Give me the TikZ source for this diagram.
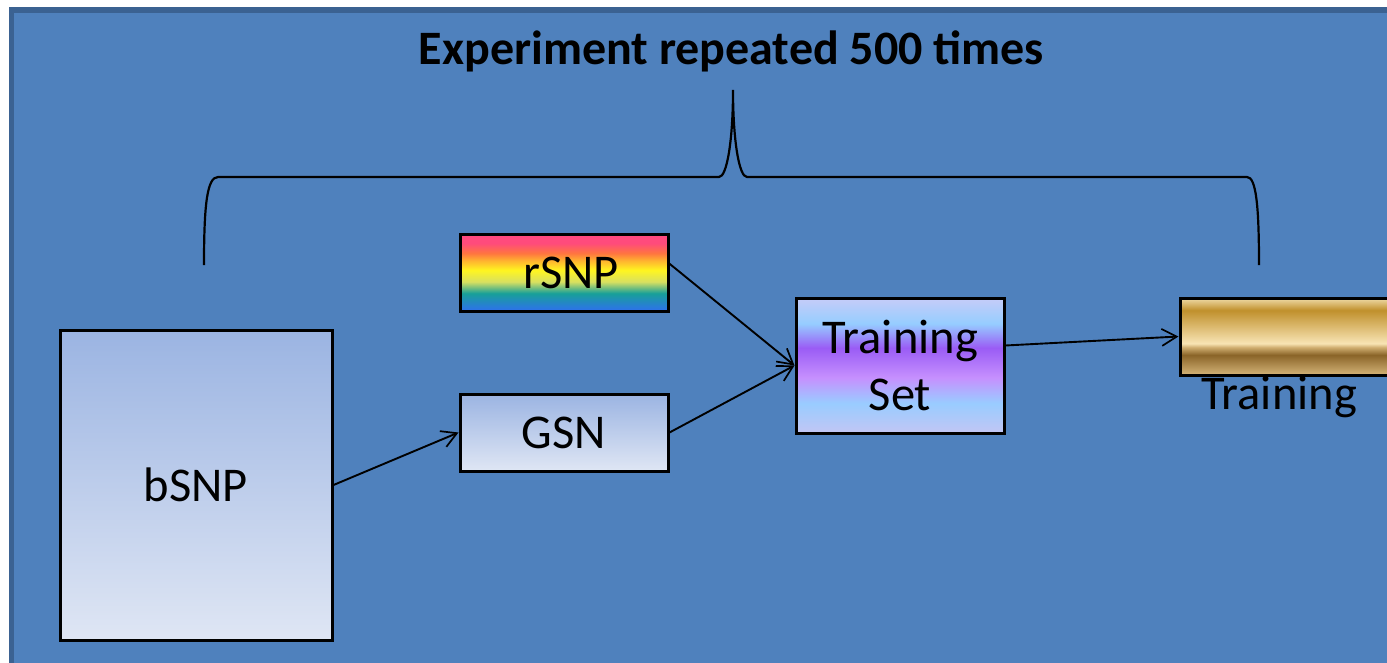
\documentclass[tikz,border=0pt]{standalone}
\usepackage{fontspec}
\setmainfont{Carlito}
\usetikzlibrary{arrows.meta,calc}
\definecolor{bgblue}{HTML}{4F81BD}
\definecolor{bgborder}{HTML}{3B6292}
\definecolor{lbtop}{HTML}{9BB4E2}
\definecolor{lbbot}{HTML}{DFE6F4}
\definecolor{rbA}{HTML}{FF4A80}
\definecolor{rbB}{HTML}{FF4B7B}
\definecolor{rbC}{HTML}{FF7540}
\definecolor{rbD}{HTML}{FFB030}
\definecolor{rbE}{HTML}{FFF520}
\definecolor{rbF}{HTML}{D8E060}
\definecolor{rbG}{HTML}{18A098}
\definecolor{rbH}{HTML}{2E70EE}
\definecolor{tsA}{HTML}{C6CCF8}
\definecolor{tsB}{HTML}{96CDFF}
\definecolor{tsC}{HTML}{9A5CF5}
\definecolor{tsD}{HTML}{C690FE}
\definecolor{tsE}{HTML}{99CCFF}
\definecolor{tsF}{HTML}{C2C6F4}
\definecolor{gdA}{HTML}{F0DCA8}
\definecolor{gdB}{HTML}{C0902C}
\definecolor{gdC}{HTML}{F8E4B4}
\definecolor{gdD}{HTML}{D0AE70}
\definecolor{gdE}{HTML}{8A6428}
\definecolor{gdF}{HTML}{D4B478}
\pgfdeclareverticalshading{rainbowsh}{100bp}{color(0bp)=(rbH); color(25bp)=(rbH); color(36.5bp)=(rbG); color(44bp)=(rbF); color(51.5bp)=(rbE); color(58bp)=(rbD); color(62.5bp)=(rbC); color(69bp)=(rbB); color(75bp)=(rbA); color(100bp)=(rbA)}
\pgfdeclareverticalshading{tssh}{100bp}{color(0bp)=(tsF); color(25bp)=(tsF); color(36bp)=(tsE); color(45.5bp)=(tsD); color(56.5bp)=(tsC); color(65.5bp)=(tsB); color(75bp)=(tsA); color(100bp)=(tsA)}
\pgfdeclareverticalshading{goldsh}{100bp}{color(0bp)=(gdF); color(25bp)=(gdF); color(38bp)=(gdE); color(43bp)=(gdD); color(45.5bp)=(gdC); color(67bp)=(gdB); color(75bp)=(gdA); color(100bp)=(gdA)}
\newcommand\diagfont{\fontsize{48.5}{57}\selectfont}
\begin{document}
\begin{tikzpicture}[x=1pt,y=-1pt,
  box/.style={draw=black, line width=3pt, inner sep=0pt, font=\diagfont, align=center},
  conn/.style={line width=1.9pt, -{Straight Barb[length=15pt,width=17pt,line width=1.7pt]}},
  bracestyle/.style={line width=2.2pt}]
\useasboundingbox (0,0) rectangle (1387,662);
\clip (0,0) rectangle (1387,662);
\draw[line width=5.3pt, draw=bgborder, fill=bgblue] (11.7,10) rectangle (1430,720);
% title
\node[font=\fontsize{48}{57}\selectfont\bfseries, anchor=base, inner sep=0pt] (title) at (731.5,64) {Experiment repeated 500 times};
% brace
\draw[bracestyle] (204,265) .. controls (204,205) and (207,177) .. (218,177) -- (719,177)
  .. controls (727,177) and (733,140) .. (733,90)
  .. controls (733,140) and (739,177) .. (747,177) -- (1247,177)
  .. controls (1256,177) and (1259,205) .. (1259,265);
% boxes
\node[box, top color=lbtop, bottom color=lbbot, minimum width=272pt, minimum height=310pt] (bsnp) at (196,485) {bSNP};
\node[box, shade, shading=rainbowsh, minimum width=208pt, minimum height=77pt] (rsnp) at (564,272.5) {\hspace*{14pt}\raisebox{-3pt}{rSNP}};
\node[box, top color=lbtop, bottom color=lbbot, minimum width=208pt, minimum height=77pt] (gsn) at (564,432.5) {GSN};
\node[box, shade, shading=tssh, minimum width=208pt, minimum height=135pt] (ts) at (900,365.5) {Training\\Set};
\node[box, shade, shading=goldsh, minimum width=240pt, minimum height=77pt] (gold) at (1300,336.5) {};
\node[font=\diagfont, anchor=base, inner sep=0pt] (trlabel) at (1279,409) {Training};
% connectors
\draw[conn] (bsnp.east) -- (gsn.west);
\draw[conn] ($(rsnp.north east)!0.39!(rsnp.south east)$) -- (ts.west);
\draw[conn] (gsn.east) -- (ts.west);
\draw[conn] ($(ts.north east)!0.355!(ts.south east)$) -- (gold.west);
\end{tikzpicture}
\end{document}
